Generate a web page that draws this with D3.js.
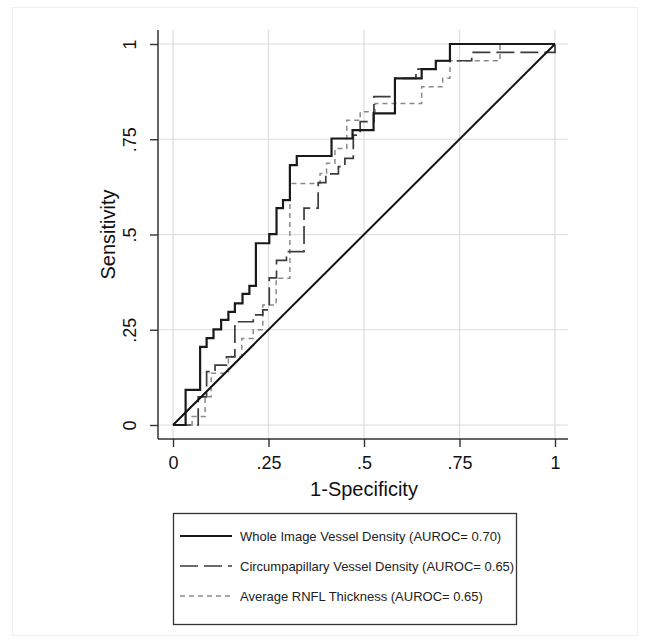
<!DOCTYPE html>
<html>
<head>
<meta charset="utf-8">
<script src="https://cdn.jsdelivr.net/npm/d3@7"></script>
<style>
  html, body { margin: 0; padding: 0; background: #fff; }
  svg { display: block; font-family: "Liberation Sans", Arial, Helvetica, sans-serif; }
</style>
</head>
<body>
<svg id="chart"></svg>
<script>
// ROC curve vertices (1-specificity, sensitivity)
const wholeFpr = [0, 0.033, 0.071, 0.088, 0.106, 0.126, 0.145, 0.162, 0.182, 0.200, 0.217, 0.252, 0.271, 0.288, 0.306, 0.324, 0.415, 0.470, 0.525, 0.581, 0.651, 0.688, 0.725, 1];
const wholeTpr = [0, 0.092, 0.205, 0.228, 0.251, 0.276, 0.297, 0.319, 0.344, 0.365, 0.477, 0.501, 0.569, 0.590, 0.682, 0.706, 0.752, 0.774, 0.818, 0.910, 0.934, 0.956, 1, 1];

const circFpr = [0, 0.066, 0.088, 0.110, 0.140, 0.162, 0.210, 0.235, 0.252, 0.271, 0.297, 0.343, 0.380, 0.400, 0.433, 0.450, 0.472, 0.490, 0.526, 0.581, 0.636, 0.688, 0.782, 1];
const circTpr = [0, 0.074, 0.140, 0.157, 0.179, 0.271, 0.289, 0.302, 0.386, 0.432, 0.455, 0.569, 0.636, 0.659, 0.678, 0.700, 0.761, 0.796, 0.862, 0.910, 0.934, 0.956, 0.978, 1];

const rnflFpr = [0, 0.050, 0.084, 0.100, 0.145, 0.180, 0.210, 0.235, 0.270, 0.306, 0.385, 0.402, 0.424, 0.455, 0.490, 0.529, 0.651, 0.706, 0.725, 0.856, 1];
const rnflTpr = [0, 0.022, 0.074, 0.136, 0.180, 0.227, 0.250, 0.315, 0.385, 0.634, 0.660, 0.687, 0.726, 0.800, 0.822, 0.844, 0.888, 0.910, 0.956, 1, 1];

const ticks = [0, 0.25, 0.5, 0.75, 1];
const tickLabels = ['0', '.25', '.5', '.75', '1'];
const legendLabels = [
  'Whole Image Vessel Density (AUROC= 0.70)',
  'Circumpapillary Vessel Density (AUROC= 0.65)',
  'Average RNFL Thickness (AUROC= 0.65)'
];

const width = 649, height = 642;
const plot = { left: 158, right: 568, top: 30, bottom: 439 };

const svg = d3.select('#chart')
  .attr('width', width)
  .attr('height', height)
  .attr('viewBox', `0 0 ${width} ${height}`);

// faint outer frame
svg.append('rect')
  .attr('x', 12.5).attr('y', 7.5)
  .attr('width', 625).attr('height', 628)
  .attr('fill', '#fff')
  .attr('stroke', '#efefef');

const x = d3.scaleLinear().domain([0, 1]).range([173, 555]);
const y = d3.scaleLinear().domain([0, 1]).range([425, 44]);

const g = svg.append('g');

// Grid
g.selectAll('.vgrid')
  .data(ticks)
  .join('line')
  .attr('x1', d => x(d)).attr('x2', d => x(d))
  .attr('y1', plot.top).attr('y2', plot.bottom)
  .attr('stroke', '#dcdcdc').attr('stroke-width', 1.2);

g.selectAll('.hgrid')
  .data(ticks)
  .join('line')
  .attr('x1', plot.left).attr('x2', plot.right)
  .attr('y1', d => y(d)).attr('y2', d => y(d))
  .attr('stroke', '#dcdcdc').attr('stroke-width', 1.2);

// Axes
const yAxis = g.append('g')
  .attr('transform', `translate(${plot.left},0)`)
  .call(d3.axisLeft(y).tickValues(ticks).tickFormat((d, i) => tickLabels[i]).tickSize(8).tickSizeOuter(0));
yAxis.select('.domain').remove();
yAxis.selectAll('line').attr('stroke', '#333').attr('stroke-width', 1.4);
yAxis.selectAll('text')
  .attr('x', null).attr('dy', null)
  .attr('transform', 'translate(-22,0) rotate(-90)')
  .attr('text-anchor', 'middle')
  .attr('font-size', 18)
  .attr('fill', '#111');

const xAxis = g.append('g')
  .attr('transform', `translate(0,${plot.bottom})`)
  .call(d3.axisBottom(x).tickValues(ticks).tickFormat((d, i) => tickLabels[i]).tickSize(8).tickSizeOuter(0));
xAxis.select('.domain').remove();
xAxis.selectAll('line').attr('stroke', '#333').attr('stroke-width', 1.4);
xAxis.selectAll('text')
  .attr('y', 30).attr('dy', null)
  .attr('font-size', 18)
  .attr('fill', '#111');

g.append('line')
  .attr('x1', plot.left).attr('x2', plot.left)
  .attr('y1', plot.top).attr('y2', plot.bottom)
  .attr('stroke', '#333').attr('stroke-width', 1.5);
g.append('line')
  .attr('x1', plot.left).attr('x2', plot.right)
  .attr('y1', plot.bottom).attr('y2', plot.bottom)
  .attr('stroke', '#333').attr('stroke-width', 1.5);

// Axis titles
g.append('text')
  .attr('transform', `translate(115,${(y(0) + y(1)) / 2}) rotate(-90)`)
  .attr('text-anchor', 'middle')
  .attr('font-size', 20)
  .attr('fill', '#111')
  .text('Sensitivity');

g.append('text')
  .attr('x', (x(0) + x(1)) / 2)
  .attr('y', 496)
  .attr('text-anchor', 'middle')
  .attr('font-size', 20)
  .attr('fill', '#111')
  .text('1-Specificity');

// Curves
const series = [
  { fpr: rnflFpr, tpr: rnflTpr, color: '#8a8a8a', width: 1.5, dash: '5,4' },
  { fpr: circFpr, tpr: circTpr, color: '#3c3c3c', width: 1.7, dash: '18,6' },
  { fpr: wholeFpr, tpr: wholeTpr, color: '#1a1a1a', width: 2.2, dash: null }
];

const line = d3.line()
  .x(d => x(d[0]))
  .y(d => y(d[1]))
  .curve(d3.curveStepAfter);

series.forEach(s => {
  g.append('path')
    .datum(d3.zip(s.fpr, s.tpr))
    .attr('d', line)
    .attr('fill', 'none')
    .attr('stroke', s.color)
    .attr('stroke-width', s.width)
    .attr('stroke-dasharray', s.dash);
});

// Reference diagonal
g.append('line')
  .attr('x1', x(0)).attr('y1', y(0))
  .attr('x2', x(1)).attr('y2', y(1))
  .attr('stroke', '#111').attr('stroke-width', 2);

// Legend
const legend = svg.append('g');
legend.append('rect')
  .attr('x', 173.5).attr('y', 513.5)
  .attr('width', 343).attr('height', 111)
  .attr('fill', '#fff')
  .attr('stroke', '#333').attr('stroke-width', 1.3);

const legendStyles = [series[2], series[1], series[0]];
const rowY = [536, 566, 596];

legend.selectAll('.leg-line')
  .data(legendStyles)
  .join('line')
  .attr('x1', 180).attr('x2', 232)
  .attr('y1', (d, i) => rowY[i]).attr('y2', (d, i) => rowY[i])
  .attr('stroke', d => d.color)
  .attr('stroke-width', d => d.width)
  .attr('stroke-dasharray', d => d.dash);

legend.selectAll('.leg-text')
  .data(legendLabels)
  .join('text')
  .attr('x', 240)
  .attr('y', (d, i) => rowY[i] + 4.5)
  .attr('font-size', 13)
  .attr('fill', '#222')
  .text(d => d);
</script>
</body>
</html>
